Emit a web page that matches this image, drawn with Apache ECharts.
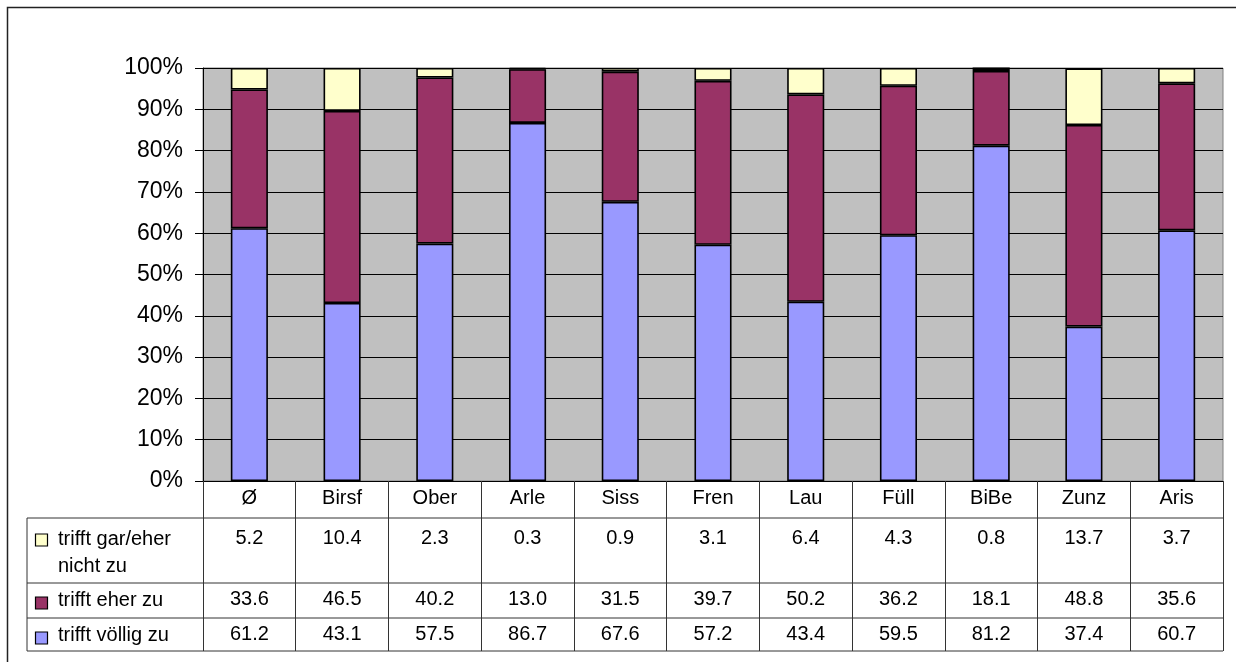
<!DOCTYPE html>
<html>
<head>
<meta charset="utf-8">
<script src="https://cdn.jsdelivr.net/npm/echarts@6/dist/echarts.min.js"></script>
<style>
  html, body { margin: 0; padding: 0; background: #fff; }
  #chart { width: 1236px; height: 662px; }
</style>
</head>
<body>
<div id="chart"></div>
<script>
// Kategorien und Werte (Prozent)
const categories = ['Ø', 'Birsf', 'Ober', 'Arle', 'Siss', 'Fren', 'Lau', 'Füll', 'BiBe', 'Zunz', 'Aris']
const gar = [5.2, 10.4, 2.3, 0.3, 0.9, 3.1, 6.4, 4.3, 0.8, 13.7, 3.7]
const eher = [33.6, 46.5, 40.2, 13.0, 31.5, 39.7, 50.2, 36.2, 18.1, 48.8, 35.6]
const voellig = [61.2, 43.1, 57.5, 86.7, 67.6, 57.2, 43.4, 59.5, 81.2, 37.4, 60.7]
const seriesNames = ['trifft gar/eher nicht zu', 'trifft eher zu', 'trifft völlig zu']
const yTicks = [0, 10, 20, 30, 40, 50, 60, 70, 80, 90, 100]

const font = 'Arial, "Liberation Sans", sans-serif'
const colors = { gar: '#ffffcc', eher: '#993366', voellig: '#9999ff' }

// Tabellenzeile als zusätzliche x-Achse
const tableAxis = (values, margin) => ({
  type: 'category',
  gridIndex: 0,
  position: 'bottom',
  data: values.map(v => v.toFixed(1)),
  axisLine: { show: false },
  axisTick: { show: false },
  axisLabel: { margin: margin, fontSize: 20, lineHeight: 20, color: '#000', fontFamily: font, interval: 0 },
})

const tableLine = (x1, y1, x2, y2) => ({
  type: 'line',
  shape: { x1, y1, x2, y2 },
  style: { stroke: '#333', lineWidth: 1 },
  z: 10,
})
const legendKey = (cy, color) => ({
  type: 'rect',
  shape: { x: 35.5, y: cy - 6, width: 12, height: 12 },
  style: { fill: color, stroke: '#000', lineWidth: 1.2 },
  z: 10,
})
const legendText = (y, text) => ({
  type: 'text',
  style: { x: 58, y: y, text: text, fontSize: 20, fontFamily: font, fill: '#000', verticalAlign: 'middle' },
  z: 10,
})

const barStyle = (color) => ({ color: color, borderColor: '#000', borderWidth: 1.6 })

const option = {
  animation: false,
  grid: {
    left: 203,
    right: 13,
    top: 68,
    bottom: 181,
    show: true,
    backgroundColor: '#c0c0c0',
    borderColor: '#808080',
    borderWidth: 1,
  },
  xAxis: [
    {
      type: 'category',
      gridIndex: 0,
      position: 'bottom',
      data: categories,
      axisLine: { show: true, lineStyle: { color: '#000', width: 1 } },
      axisTick: { show: true, length: 170, lineStyle: { color: '#333', width: 1 } },
      axisLabel: { margin: 7, fontSize: 20, lineHeight: 20, color: '#000', fontFamily: font, interval: 0 },
      z: 5,
    },
    tableAxis(gar, 47),
    tableAxis(eher, 108),
    tableAxis(voellig, 143),
  ],
  yAxis: {
    type: 'value',
    min: yTicks[0],
    max: yTicks[yTicks.length - 1],
    interval: 10,
    axisLine: { show: true, lineStyle: { color: '#000', width: 1 } },
    axisTick: { show: true, length: 8, lineStyle: { color: '#000' } },
    splitLine: { show: true, lineStyle: { color: '#000', width: 1 } },
    axisLabel: { formatter: '{value}%', fontSize: 23, color: '#000', fontFamily: font, margin: 20 },
  },
  series: [
    {
      name: seriesNames[2],
      type: 'bar',
      stack: 'total',
      xAxisIndex: 0,
      barWidth: '40%',
      data: voellig,
      itemStyle: barStyle(colors.voellig),
    },
    {
      name: seriesNames[1],
      type: 'bar',
      stack: 'total',
      xAxisIndex: 0,
      barWidth: '40%',
      data: eher,
      itemStyle: barStyle(colors.eher),
    },
    {
      name: seriesNames[0],
      type: 'bar',
      stack: 'total',
      xAxisIndex: 0,
      barWidth: '40%',
      data: gar,
      itemStyle: barStyle(colors.gar),
    },
  ],
  graphic: [
    // Rahmen aussen
    {
      type: 'rect',
      shape: { x: 7.5, y: 7.5, width: 1240, height: 670 },
      style: { fill: 'none', stroke: '#222', lineWidth: 1.5 },
      z: 10,
    },
    // Datentabelle
    tableLine(27, 518, 1223, 518),
    tableLine(27, 583, 1223, 583),
    tableLine(27, 618, 1223, 618),
    tableLine(27, 651, 1223, 651),
    tableLine(27, 518, 27, 651),
    legendKey(540, colors.gar),
    legendKey(603, colors.eher),
    legendKey(638, colors.voellig),
    legendText(539, 'trifft gar/eher'),
    legendText(566, 'nicht zu'),
    legendText(600, 'trifft eher zu'),
    legendText(635, 'trifft völlig zu'),
  ],
}

const initEcharts = () => {
  const myChart = echarts.init(document.getElementById('chart'))
  myChart.setOption(option)
}
initEcharts()
</script>
</body>
</html>
